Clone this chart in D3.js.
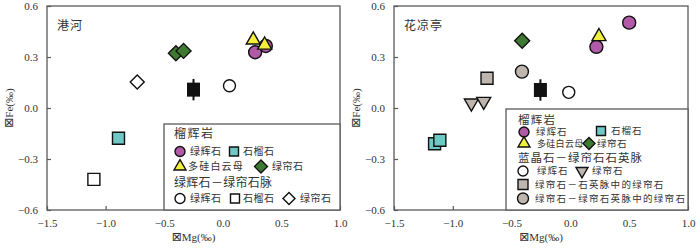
<!DOCTYPE html>
<html>
<head>
<meta charset="utf-8">
<script src="https://cdn.jsdelivr.net/npm/d3@7"></script>
<style>
  body { margin: 0; background: #fff; }
  .tick-label { font-family: "Liberation Serif", serif; font-size: 11px; fill: #333; }
  .cjk { font-family: "Noto Sans CJK SC", sans-serif; fill: #333; }
</style>
</head>
<body>
<div id="chart"></div>
<script>
// tick values
var xTicks = [-1.5, -1.0, -0.5, 0.0, 0.5, 1.0];
var yTicks = [-0.6, -0.3, 0.0, 0.3, 0.6];

// 港河 (left panel) [dMg, dFe]
var ghOmphacite = [[0.276, 0.328], [0.367, 0.365]];
var ghPhengite = [[0.26, 0.40], [0.357, 0.37]];
var ghEpidote = [[-0.40, 0.322], [-0.335, 0.336]];
var ghGarnet = [[-0.89, -0.178]];
var ghVeinOmphacite = [[0.057, 0.131]];
var ghVeinGarnet = [[-1.10, -0.42]];
var ghVeinEpidote = [[-0.73, 0.153]];
var ghError = [-0.25, 0.108, 0.063];

// 花凉亭 (right panel)
var hltOmphacite = [[0.50, 0.502], [0.221, 0.36]];
var hltPhengite = [[0.243, 0.42]];
var hltEpidote = [[-0.41, 0.396]];
var hltGarnet = [[-1.155, -0.21], [-1.11, -0.19]];
var hltVeinOmphacite = [[-0.014, 0.092]];
var hltVeinEpidote = [[-0.842, 0.029], [-0.737, 0.039]];
var hltQzEpidote = [[-0.709, 0.175]];
var hltEpQzEpidote = [[-0.412, 0.214]];
var hltError = [-0.255, 0.106, 0.063];

// colours
var cMagenta = "#b05aa8";
var cCyan = "#6fc7c6";
var cYellow = "#f3ef3d";
var cGreen = "#3e7a31";
var cGray = "#bfb5af";
var cAxis = "#5a5a5a";

var svg = d3.select("#chart").append("svg")
  .attr("width", 700)
  .attr("height", 250);

// marker shapes
function markerPath(type, s) {
  if (type === "circle") return d3.symbol(d3.symbolCircle, Math.PI * s * s / 4)();
  if (type === "square") return d3.symbol(d3.symbolSquare, s * s)();
  if (type === "diamond") return d3.symbol(d3.symbolSquare, s * s / 2)();
  if (type === "triangle" || type === "tridown") return d3.symbol(d3.symbolTriangle, Math.sqrt(3) / 4 * s * s)();
}
function markerRotate(type) {
  if (type === "diamond") return 45;
  if (type === "tridown") return 180;
  return 0;
}

function drawMarkers(g, x, y, data, type, fill, size) {
  g.selectAll(null)
    .data(data)
    .enter().append("path")
    .attr("d", markerPath(type, size))
    .attr("transform", function(d) {
      return "translate(" + x(d[0]) + "," + y(d[1]) + ") rotate(" + markerRotate(type) + ")";
    })
    .style("fill", fill)
    .style("stroke", "#111")
    .style("stroke-width", 1.4);
}

// axis title with the boxed delta glyph
function axisTitle(sel, name) {
  sel.append("tspan").style("font-family", "DejaVu Sans").style("font-size", "12px").text("\u22A0");
  sel.append("tspan").text(name + "(\u2030)");
}

function drawPanel(cfg) {
  var x = d3.scaleLinear().domain([-1.5, 1.0]).range([cfg.left, cfg.right]);
  var y = d3.scaleLinear().domain([-0.6, 0.6]).range([210, 6]);
  var g = svg.append("g");

  // frame
  g.append("rect")
    .attr("x", cfg.left).attr("y", 6)
    .attr("width", cfg.right - cfg.left).attr("height", 204)
    .style("fill", "none").style("stroke", cAxis).style("stroke-width", 1.3);

  // x axis, ticks inside
  var xAxis = d3.axisBottom(x).tickValues(xTicks).tickSizeInner(-4).tickSizeOuter(0).tickPadding(9)
    .tickFormat(d3.format(".1f"));
  var gx = g.append("g").attr("transform", "translate(0,210)").call(xAxis);
  gx.select(".domain").remove();
  gx.selectAll("line").style("stroke", cAxis).style("stroke-width", 1.2);
  gx.selectAll("text").attr("class", "tick-label").attr("fill", null);

  // y axis, ticks inside
  var yAxis = d3.axisLeft(y).tickValues(yTicks).tickSizeInner(-4).tickSizeOuter(0).tickPadding(9)
    .tickFormat(d3.format(".1f"));
  var gy = g.append("g").attr("transform", "translate(" + cfg.left + ",0)").call(yAxis);
  gy.select(".domain").remove();
  gy.selectAll("line").style("stroke", cAxis).style("stroke-width", 1.2);
  gy.selectAll("text").attr("class", "tick-label").attr("fill", null);

  // axis labels
  g.append("text")
    .attr("x", (cfg.left + cfg.right) / 2).attr("y", 241)
    .attr("text-anchor", "middle")
    .attr("class", "tick-label")
    .call(axisTitle, "Mg");
  g.append("text")
    .attr("transform", "translate(" + (cfg.left - 34) + ",108) rotate(-90)")
    .attr("text-anchor", "middle")
    .attr("class", "tick-label")
    .call(axisTitle, "Fe");

  // panel title
  g.append("text")
    .attr("x", cfg.left + 10).attr("y", 30)
    .attr("class", "cjk")
    .style("font-size", "12px")
    .style("letter-spacing", "1px")
    .text(cfg.title);

  // legend box
  g.append("rect")
    .attr("x", cfg.legend.x).attr("y", cfg.legend.y)
    .attr("width", cfg.right - cfg.legend.x).attr("height", 210 - cfg.legend.y)
    .style("fill", "#fff").style("stroke", cAxis).style("stroke-width", 1.3);

  cfg.legend.rows.forEach(function(r) {
    if (r.marker) {
      g.append("path")
        .attr("d", markerPath(r.marker, r.size))
        .attr("transform", "translate(" + r.mx + "," + r.y + ") rotate(" + markerRotate(r.marker) + ")")
        .style("fill", r.fill).style("stroke", "#111").style("stroke-width", 1.4);
    }
    g.append("text")
      .attr("x", r.tx).attr("y", r.y)
      .attr("dy", "0.35em")
      .attr("class", "cjk")
      .style("font-size", r.fs + "px")
      .style("letter-spacing", r.ls + "px")
      .text(r.text);
  });

  // error bar (2SD)
  var e = cfg.error;
  g.append("line")
    .attr("x1", x(e[0])).attr("x2", x(e[0]))
    .attr("y1", y(e[1] + e[2])).attr("y2", y(e[1] - e[2]))
    .style("stroke", "#111").style("stroke-width", 2);
  g.append("rect")
    .attr("x", x(e[0]) - 6.5).attr("y", y(e[1]) - 7)
    .attr("width", 13).attr("height", 14)
    .style("fill", "#111");

  // data points
  cfg.series.forEach(function(s) {
    drawMarkers(g, x, y, s.data, s.type, s.fill, s.size);
  });
}

drawPanel({
  left: 47, right: 340, title: "港河",
  error: ghError,
  series: [
    { data: ghGarnet, type: "square", fill: cCyan, size: 12 },
    { data: ghVeinGarnet, type: "square", fill: "#fff", size: 12 },
    { data: ghVeinEpidote, type: "diamond", fill: "#fff", size: 14 },
    { data: ghEpidote, type: "diamond", fill: cGreen, size: 15 },
    { data: ghVeinOmphacite, type: "circle", fill: "#fff", size: 12 },
    { data: ghOmphacite, type: "circle", fill: cMagenta, size: 13 },
    { data: ghPhengite, type: "triangle", fill: cYellow, size: 14 }
  ],
  legend: {
    x: 164, y: 124,
    rows: [
      { text: "榴辉岩", tx: 174, y: 134, fs: 12, ls: 1.5 },
      { marker: "circle", fill: cMagenta, size: 10, mx: 180, text: "绿辉石", tx: 190, y: 151.5, fs: 10, ls: 0.5 },
      { marker: "square", fill: cCyan, size: 9, mx: 234, text: "石榴石", tx: 243, y: 151.5, fs: 10, ls: 0.5 },
      { marker: "triangle", fill: cYellow, size: 12, mx: 180, text: "多硅白云母", tx: 188, y: 166.5, fs: 10, ls: 1.2 },
      { marker: "diamond", fill: cGreen, size: 13, mx: 261, text: "绿帘石", tx: 272, y: 166.5, fs: 10, ls: 0.5 },
      { text: "绿辉石－绿帘石脉", tx: 174, y: 183, fs: 12, ls: 0.3 },
      { marker: "circle", fill: "#fff", size: 10, mx: 180, text: "绿辉石", tx: 190, y: 198.5, fs: 10, ls: 0.5 },
      { marker: "square", fill: "#fff", size: 9, mx: 235, text: "石榴石", tx: 243, y: 198.5, fs: 10, ls: 0.5 },
      { marker: "diamond", fill: "#fff", size: 12, mx: 289, text: "绿帘石", tx: 300, y: 198.5, fs: 10, ls: 0.5 }
    ]
  }
});

drawPanel({
  left: 394, right: 688, title: "花凉亭",
  error: hltError,
  series: [
    { data: hltGarnet, type: "square", fill: cCyan, size: 12 },
    { data: hltQzEpidote, type: "square", fill: cGray, size: 12 },
    { data: hltEpQzEpidote, type: "circle", fill: cGray, size: 13 },
    { data: hltVeinEpidote, type: "tridown", fill: cGray, size: 14 },
    { data: hltEpidote, type: "diamond", fill: cGreen, size: 15 },
    { data: hltVeinOmphacite, type: "circle", fill: "#fff", size: 12 },
    { data: hltOmphacite, type: "circle", fill: cMagenta, size: 13 },
    { data: hltPhengite, type: "triangle", fill: cYellow, size: 14 }
  ],
  legend: {
    x: 506, y: 109,
    rows: [
      { text: "榴辉岩", tx: 518, y: 120, fs: 11.5, ls: 1.2 },
      { marker: "circle", fill: cMagenta, size: 10, mx: 524, text: "绿辉石", tx: 536, y: 132, fs: 9.5, ls: 1 },
      { marker: "square", fill: cCyan, size: 9, mx: 601, text: "石榴石", tx: 611, y: 131, fs: 9.5, ls: 1 },
      { marker: "triangle", fill: cYellow, size: 12, mx: 524, text: "多硅白云母", tx: 537, y: 143.5, fs: 9, ls: 0.3 },
      { marker: "diamond", fill: cGreen, size: 12, mx: 589, text: "绿帘石", tx: 597, y: 143.5, fs: 9.5, ls: 0.5 },
      { text: "蓝晶石－绿帘石石英脉", tx: 518, y: 158, fs: 11.5, ls: 1 },
      { marker: "circle", fill: "#fff", size: 10, mx: 523, text: "绿辉石", tx: 537, y: 171, fs: 9.5, ls: 1 },
      { marker: "tridown", fill: cGray, size: 12, mx: 582, text: "绿帘石", tx: 592, y: 171, fs: 9.5, ls: 1 },
      { marker: "square", fill: cGray, size: 10, mx: 523, text: "绿帘石－石英脉中的绿帘石", tx: 535, y: 184.5, fs: 9.5, ls: 1.3 },
      { marker: "circle", fill: cGray, size: 11, mx: 523, text: "绿帘石－绿帘石英脉中的绿帘石", tx: 535, y: 198.5, fs: 9.5, ls: 1.3 }
    ]
  }
});
</script>
</body>
</html>
